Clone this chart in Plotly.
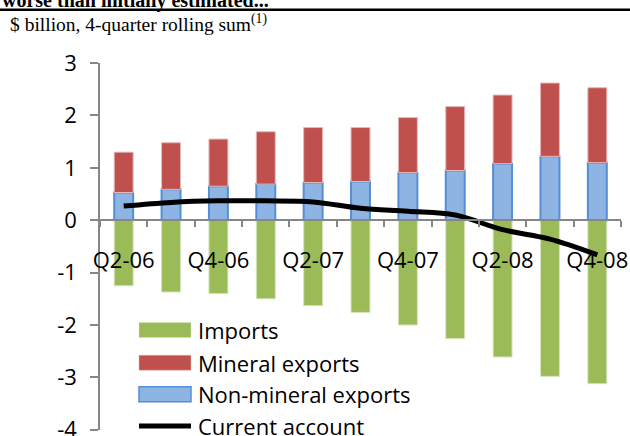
import plotly.graph_objects as go

categories = ["Q2-06", "Q3-06", "Q4-06", "Q1-07", "Q2-07", "Q3-07",
              "Q4-07", "Q1-08", "Q2-08", "Q3-08", "Q4-08"]
labelled_categories = ["Q2-06", "Q4-06", "Q2-07", "Q4-07", "Q2-08", "Q4-08"]
imports = [-1.25, -1.37, -1.40, -1.50, -1.63, -1.76, -2.00, -2.26, -2.61, -2.98, -3.12]
mineral_exports = [0.77, 0.89, 0.90, 1.00, 1.05, 1.03, 1.05, 1.22, 1.31, 1.40, 1.43]
non_mineral_exports = [0.53, 0.59, 0.65, 0.69, 0.72, 0.74, 0.91, 0.95, 1.08, 1.22, 1.10]
current_account = [0.27, 0.34, 0.37, 0.37, 0.35, 0.23, 0.17, 0.10, -0.18, -0.36, -0.66]
y_ticks = [3, 2, 1, 0, -1, -2, -3, -4]
y_tick_labels = ["3", "2", "1", "0", "-1", "-2", "-3", "-4"]

GREEN = "#9BBB59"
RED = "#C0504D"
BLUE = "#8DB4E2"
BLUE_EDGE = "#558ED5"
AXIS = "#868686"
FONT = "Open Sans"
FS = 22

fig = go.Figure()
fig.add_trace(go.Bar(x=categories, y=non_mineral_exports, name="Non-mineral exports",
                     marker=dict(color=BLUE, line=dict(color=BLUE_EDGE, width=2))))
fig.add_trace(go.Bar(x=categories, y=mineral_exports, name="Mineral exports",
                     marker=dict(color=RED, line=dict(color="#E6B9B8", width=1))))
fig.add_trace(go.Bar(x=categories, y=imports, name="Imports",
                     marker=dict(color=GREEN, line=dict(color="#D7E4BD", width=1))))
fig.add_trace(go.Scatter(x=categories, y=current_account, name="Current account",
                         xaxis="x2", yaxis="y",
                         mode="lines", line=dict(color="black", width=5, shape="spline")))

L, R, T, B = 100, 9, 63, 6
W, H = 630, 436
pw, ph = W - L - R, H - T - B

def px(x):
    return (x - L) / pw

def py(y):
    return (H - B - y) / ph

shapes = []
annotations = []

# legend (drawn manually to match symbol sizes)
legend_items = [
    ("Imports", "bar", GREEN, "#D7E4BD", 330),
    ("Mineral exports", "bar", RED, "#E6B9B8", 362.7),
    ("Non-mineral exports", "bar", BLUE, BLUE_EDGE, 394.3),
    ("Current account", "line", "black", "black", 426),
]
for name, kind, col, edge, yc in legend_items:
    if kind == "bar":
        shapes.append(dict(type="rect", xref="paper", yref="paper",
                           x0=px(139), x1=px(191), y0=py(yc + 7.5), y1=py(yc - 7.5),
                           fillcolor=col, line=dict(color=edge, width=1.5 if edge == BLUE_EDGE else 0.5)))
    else:
        shapes.append(dict(type="line", xref="paper", yref="paper",
                           x0=px(139), x1=px(191), y0=py(yc), y1=py(yc),
                           line=dict(color=col, width=5)))
    annotations.append(dict(text=name, xref="paper", yref="paper", x=px(196), y=py(yc),
                            xanchor="left", yanchor="middle", showarrow=False,
                            font=dict(family=FONT, size=FS, color="black")))

# header rule
shapes.append(dict(type="line", xref="paper", yref="paper", x0=px(0), x1=px(630),
                   y0=py(9.7), y1=py(9.7), line=dict(color="black", width=2.5)))
annotations.append(dict(text="<b>worse than initially estimated...</b>", xref="paper", yref="paper",
                        x=px(0), y=py(0), xanchor="left", yanchor="middle", showarrow=False,
                        font=dict(family="Liberation Serif", size=20, color="black")))
annotations.append(dict(text="$ billion, 4-quarter rolling sum<sup>(1)</sup>", xref="paper", yref="paper",
                        x=px(8), y=py(22.5), xanchor="left", yanchor="middle", showarrow=False,
                        font=dict(family="Liberation Serif", size=19.5, color="black")))

fig.update_layout(
    width=W, height=H,
    margin=dict(l=L, r=R, t=T, b=B, autoexpand=False),
    barmode="relative", bargap=0.6,
    showlegend=False,
    plot_bgcolor="white", paper_bgcolor="white",
    shapes=shapes, annotations=annotations,
    font=dict(family=FONT, size=FS, color="black"),
)
# labels-only axis
fig.update_layout(xaxis=dict(
    type="category", categoryorder="array", categoryarray=categories,
    tickvals=labelled_categories, ticks="", showline=True, linecolor=AXIS, linewidth=1.5,
    anchor="free", position=4 / 7, showgrid=False, zeroline=False, automargin=False,
    ticklabelstandoff=21, tickangle=0, ticklabeloverflow="allow",
    tickfont=dict(family=FONT, size=FS, color="black")))
# ticks-only axis (tick marks at category boundaries)
fig.update_layout(xaxis2=dict(
    type="category", categoryorder="array", categoryarray=categories,
    matches="x", overlaying="x", side="bottom", automargin=False,
    tickvals=categories, tickson="boundaries", ticks="outside", ticklen=6, tickwidth=1.5,
    tickcolor=AXIS, showticklabels=False, showline=False, showgrid=False, zeroline=False,
    anchor="free", position=4 / 7))
fig.update_yaxes(range=[-4.004, 3.002], tickvals=y_ticks, ticktext=y_tick_labels,
                 ticks="outside", ticklen=8, tickwidth=1.5, automargin=False,
                 tickcolor=AXIS, showline=True, linecolor=AXIS, linewidth=1.5,
                 showgrid=False, zeroline=False, ticklabelstandoff=9,
                 ticklabeloverflow="allow",
                 tickfont=dict(family=FONT, size=FS, color="black"))

fig.write_html("out.html", config={"displayModeBar": False},
               post_script="document.body.style.margin='0';document.body.style.padding='0';")
